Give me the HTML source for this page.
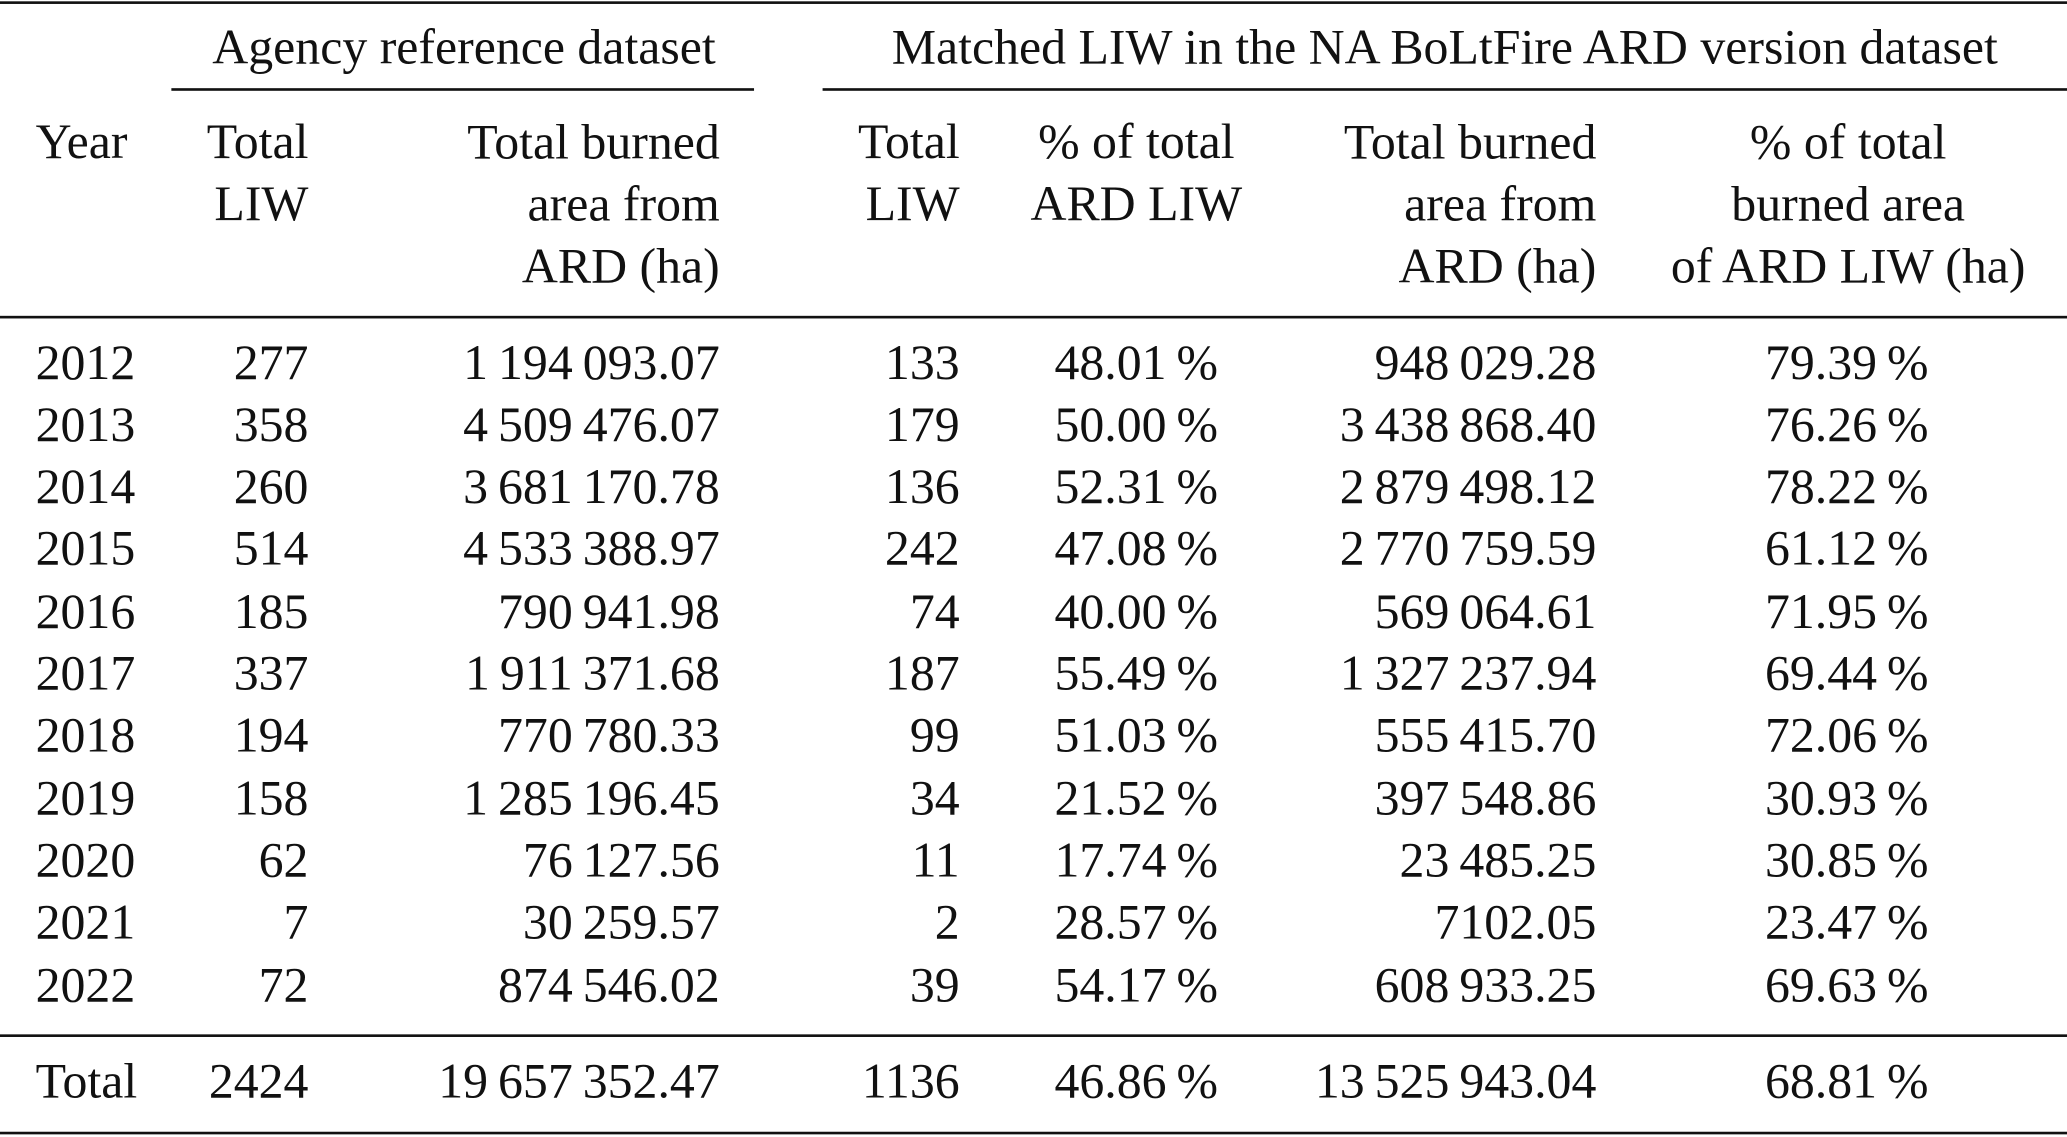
<!DOCTYPE html>
<html><head><meta charset="utf-8"><style>
html,body{margin:0;padding:0;background:#fff;}
body{width:2067px;height:1137px;overflow:hidden;position:relative;}
#wrap{position:absolute;left:0;top:0;width:1568px;height:864px;transform:scale(1.31824,1.31597);transform-origin:0 0;font-family:"Liberation Serif",serif;font-size:37.8px;color:#111;}
.t{position:absolute;white-space:nowrap;line-height:1;transform:translateY(-50%);margin-top:1.5px;}
.r{transform:translate(-100%,-50%);}
.c{transform:translate(-50%,-50%);text-align:center;}
.rule{position:absolute;background:#111;}
</style></head><body>
<div id="wrap">
<div class="rule" style="left:0;width:1568px;top:1px;height:2px"></div>
<div class="rule" style="left:130px;width:442px;top:67px;height:1.5px"></div>
<div class="rule" style="left:624px;width:944px;top:67px;height:1.5px"></div>
<div class="rule" style="left:0;width:1568px;top:240px;height:1.5px"></div>
<div class="rule" style="left:0;width:1568px;top:786px;height:1.5px"></div>
<div class="rule" style="left:0;width:1568px;top:860px;height:2px"></div>

<div class="t c" style="left:352px;top:35px">Agency reference dataset</div>
<div class="t c" style="left:1096px;top:35px">Matched LIW in the NA BoLtFire ARD version dataset</div>

<div class="t" style="left:27px;top:107px">Year</div>
<div class="t r" style="left:234px;top:130px;line-height:47px;text-align:right">Total<br>LIW</div>
<div class="t r" style="left:546px;top:154px;text-align:right;line-height:47px">Total burned<br>area from<br>ARD (ha)</div>
<div class="t r" style="left:728px;top:130px;text-align:right;line-height:47px">Total<br>LIW</div>
<div class="t c" style="left:862px;top:130px;line-height:47px">% of total<br>ARD LIW</div>
<div class="t r" style="left:1211px;top:154px;text-align:right;line-height:47px">Total burned<br>area from<br>ARD (ha)</div>
<div class="t c" style="left:1402px;top:154px;line-height:47px">% of total<br>burned area<br>of ARD LIW (ha)</div>
</div>
<script>
const years=["2012","2013","2014","2015","2016","2017","2018","2019","2020","2021","2022","Total"];
const totalLiw=["277","358","260","514","185","337","194","158","62","7","72","2424"];
const burned=["1 194 093.07","4 509 476.07","3 681 170.78","4 533 388.97","790 941.98","1 911 371.68","770 780.33","1 285 196.45","76 127.56","30 259.57","874 546.02","19 657 352.47"];
const matched=["133","179","136","242","74","187","99","34","11","2","39","1136"];
const pctLiw=["48.01","50.00","52.31","47.08","40.00","55.49","51.03","21.52","17.74","28.57","54.17","46.86"];
const matchedArea=["948 029.28","3 438 868.40","2 879 498.12","2 770 759.59","569 064.61","1 327 237.94","555 415.70","397 548.86","23 485.25","7102.05","608 933.25","13 525 943.04"];
const pctArea=["79.39","76.26","78.22","61.12","71.95","69.44","72.06","30.93","30.85","23.47","69.63","68.81"];
const wrap=document.getElementById('wrap');
function cell(txt,x,y,right,name){
  const d=document.createElement('div');
  d.className='t'+(right?' r':'');
  d.style.left=x+'px';d.style.top=y+'px';
  d.textContent=txt.replace(/ /g,'\u2009');
  
  
  wrap.appendChild(d);
}
years.forEach((y,i)=>{
  const top=i<11?275+i*47.3:821;
  cell(y,27,top,false,'year-cell');
  cell(totalLiw[i],234,top,true,'total-liw-cell');
  cell(burned[i],546,top,true,'burned-area-cell');
  cell(matched[i],728,top,true,'matched-liw-cell');
  cell(pctLiw[i]+' %',924,top,true,'pct-liw-cell');
  cell(matchedArea[i],1211,top,true,'matched-area-cell');
  cell(pctArea[i]+' %',1463,top,true,'pct-area-cell');
});
</script>
</body></html>
